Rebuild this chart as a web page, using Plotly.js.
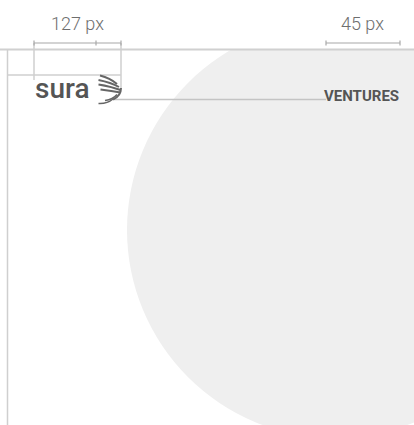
<!DOCTYPE html>
<html>
<head>
<meta charset="utf-8">
<script src="https://cdn.plot.ly/plotly-3.0.1.min.js"></script>
<style>html,body{margin:0;padding:0;background:#fff;}#chart{width:414px;height:425px;}</style>
</head>
<body>
<div id="chart"></div>
<script>
// Values
const dimensionValues = [127, 45];
const dimensionUnit = "px";
const brandName = "sura";
const brandSuffix = "VENTURES";

const dimLabels = dimensionValues.map(v => v + " " + dimensionUnit);

const guide = {color: "#cfcfcf", width: 1.5};
const dimLine = {color: "#a8a8a8", width: 1.2};
function line(x0, y0, x1, y1, l) {
  return {type: "line", xref: "x", yref: "y", x0, y0, x1, y1, line: l, layer: "above"};
}
function stroke(p, w) {
  return {type: "path", xref: "x", yref: "y", path: p, line: {color: "#666666", width: w}, layer: "above"};
}

const shapes = [
  // background circle
  {type: "circle", xref: "x", yref: "y", x0: 127, x1: 543, y0: 22, y1: 438,
   fillcolor: "#efefef", line: {width: 0}, layer: "below"},
  // white cover above top guide line
  {type: "rect", xref: "x", yref: "y", x0: 0, x1: 414, y0: 0, y1: 49.5,
   fillcolor: "#ffffff", line: {width: 0}, layer: "below"},
  // guides
  line(0, 49.5, 414, 49.5, {color: "#d0d0d0", width: 2}),
  line(7.5, 49.5, 7.5, 425, guide),
  line(7.5, 75, 121, 75, guide),
  line(34, 43, 34, 80, guide),
  line(121, 43, 121, 88, guide),
  line(114, 99.5, 326, 99.5, {color: "#c4c4c4", width: 1.5}),
  // dimension line 127 px
  line(34, 43, 121, 43, dimLine),
  line(34, 40.5, 34, 45.5, dimLine),
  line(96, 40.5, 96, 45.5, dimLine),
  line(121, 40.5, 121, 45.5, dimLine),
  // dimension line 45 px
  line(326, 43, 400, 43, dimLine),
  line(326, 40.5, 326, 45.5, dimLine),
  line(400, 40.5, 400, 45.5, dimLine),
  // wing logo strokes
  stroke("M 100 75.5 Q 110 78 117 84", 2),
  stroke("M 98.5 80 Q 111 82.5 119 87", 2),
  stroke("M 98.5 84.5 Q 111 86.5 120.5 90", 2),
  stroke("M 100.5 89.5 Q 112 91 120.5 92.5", 2),
  stroke("M 121 88 Q 121 96 113 99.5", 2),
  stroke("M 117 94.5 Q 113 99.5 105 100.5", 1.6),
  stroke("M 113 99 Q 107 104 98.5 103.5", 1.6)
];

const annotations = [
  {x: 77, y: 23, text: dimLabels[0], font: {family: "Roboto", size: 18, weight: 300, color: "#6e6e6e"}},
  {x: 362, y: 23, text: dimLabels[1], font: {family: "Roboto", size: 18, weight: 300, color: "#6e6e6e"}},
  {x: 32.5, y: 88, text: brandName, xanchor: "left", font: {family: "Roboto", size: 28, weight: 500, color: "#555555"}},
  {x: 400.5, y: 95.5, text: "<b>" + brandSuffix + "</b>", xanchor: "right", font: {family: "Roboto", size: 15, color: "#555555"}}
].map(a => Object.assign({xref: "x", yref: "y", showarrow: false, yanchor: "middle"}, a));

const layout = {
  width: 414, height: 425,
  margin: {l: 0, r: 0, t: 0, b: 0, pad: 0},
  paper_bgcolor: "#ffffff", plot_bgcolor: "#ffffff",
  xaxis: {range: [0, 414], visible: false, fixedrange: true},
  yaxis: {range: [425, 0], visible: false, fixedrange: true},
  showlegend: false,
  shapes, annotations
};

Plotly.newPlot("chart", [{x: [], y: [], type: "scatter"}], layout, {displayModeBar: false, staticPlot: true});
</script>
</body>
</html>
